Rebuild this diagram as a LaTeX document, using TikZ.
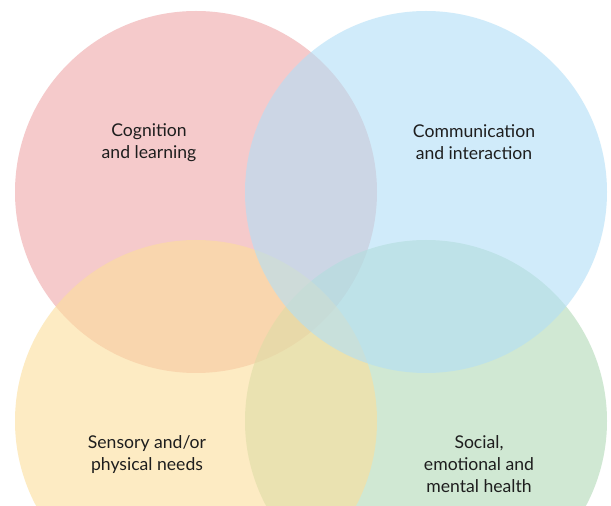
\documentclass[tikz,border=0pt]{standalone}
\usepackage{fontspec}
\setmainfont{Lato}
\usepackage{xcolor}
\usetikzlibrary{positioning}

\definecolor{cogpink}{RGB}{245,202,203}
\definecolor{comblue}{RGB}{178,223,247}
\definecolor{senyellow}{RGB}{252,222,155}
\definecolor{socgreen}{RGB}{178,217,183}
\definecolor{labelgray}{RGB}{30,30,30}

\tikzset{
  area/.style={text=labelgray, align=center, font=\fontsize{17.6}{22}\selectfont},
}

\begin{document}
\begin{tikzpicture}[x=1pt, y=1pt]
      \useasboundingbox (0, 0) rectangle (611, 506);
      \clip (0, 0) rectangle (611, 506);
      \fill[white] (0, 0) rectangle (611, 506);

      % the four areas of need
      \fill[cogpink] (196, 314) circle (181);
      \fill[socgreen, opacity=0.6] (426, 85) circle (181);
      \fill[senyellow, opacity=0.6] (196, 85) circle (181);
      \fill[comblue, opacity=0.6] (426, 314) circle (181);

      \node[area] (cog) at (149, 363) {Cognition\\and learning};
      \node[area] (com) at (474, 364) {Communication\\and interaction};
      \node[area] (sen) at (147, 51) {Sensory and/or\\physical needs};
      \node[area] (soc) at (479, 42) {Social,\\emotional and\\mental health};
    \end{tikzpicture}
\end{document}
